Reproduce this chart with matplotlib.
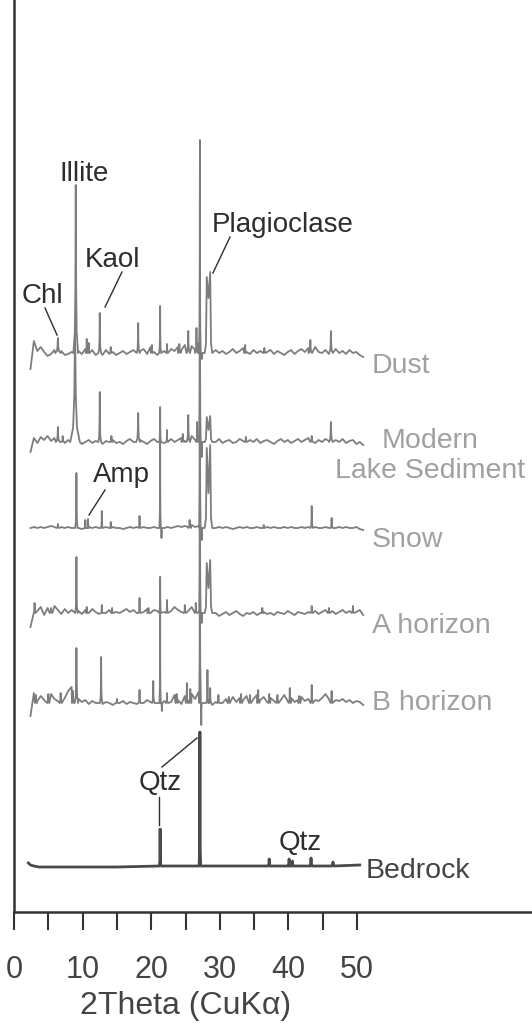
import numpy as np
import matplotlib.pyplot as plt

plt.rcParams['font.family'] = ['Liberation Sans', 'DejaVu Sans']

# 2theta grid for the background wiggle of the measured patterns (deg)
two_theta = np.arange(2.4, 50.95, 0.5)

# background noise (arb. units), one value per grid step
dust_noise = [-16, 12, 2, 6, 1, -3, -1, 3, 0, 2,
              -2, -1, 1, 0, 2, -1, 4, 1, 3, -2,
              0, -2, 3, -1, 1, -2, 0, 2, -1, 1,
              3, -2, 2, 4, -1, 6, 1, -2, 3, 2,
              -1, 4, 2, 6, 3, 8, 4, 7, 3, 10,
              0, 0, 2, -1, 3, 0, 2, -1, 1, 4,
              0, 2, 5, 1, -1, 3, 0, 2, -2, 1,
              3, -1, 2, 0, -2, 1, 3, -1, 2, 4,
              1, 5, 2, 6, 1, 0, 3, -1, 2, 4,
              0, 2, -1, 3, 0, 1, -2, -4]
lake_noise = [-10, 4, -1, 5, 2, 6, 1, 4, 0, 3,
              -1, 2, 0, 0, 1, -2, 0, 2, -1, 1,
              0, -2, 1, 0, 2, -1, 0, -2, 1, 3,
              0, -1, 2, 0, -2, 1, 3, 0, 2, -1,
              1, 3, 0, 2, 4, 1, 3, 6, 2, 4,
              0, 0, -4, 2, 0, 3, -1, 1, 2, -1,
              0, 3, 1, -1, 2, 0, 3, -1, 1, 2,
              0, -2, 1, 3, 0, 2, -1, 1, 3, 0,
              2, 4, 1, -1, 2, 0, 3, 1, -1, 2,
              0, 3, -1, 1, 2, -2, 0, -3]
snow_noise = [0, 1, 0, 1, 0, 1, 2, 1, 0, 1,
              0, 1, 0, 0, 0, -1, 0, 1, 0, 1,
              0, 0, 1, 0, 1, 0, 0, -1, 0, 1,
              0, 1, 0, 1, 0, 0, 1, 0, 1, 0,
              1, 0, 1, 2, 1, 2, 1, 3, 1, 2,
              0, 0, -2, 1, 0, 1, 0, 1, 0, -1,
              0, 1, 0, 1, 0, 0, 1, 0, -1, 1,
              0, 1, 0, 0, 1, 0, 1, 0, 0, 1,
              0, 1, 0, 1, 0, 0, 1, 0, 1, 0,
              1, 0, 1, 0, 0, 1, -1, -2]
a_noise = [-14, 8, 2, 6, -2, 5, 1, 7, 3, -1,
           4, 0, 3, 0, 2, -1, 3, 0, 4, 1,
           -1, 2, 0, 3, -1, 1, 0, 2, 4, 1,
           3, 0, 2, 1, 4, 0, 3, 2, 5, 1,
           4, 2, 6, 3, 1, 5, 2, 6, 3, 1,
           0, 0, 1, -2, 0, -3, -1, 1, -2, 0,
           2, -1, -3, 0, -1, 1, -2, 0, 1, -1,
           0, -2, 1, 0, -1, 2, 0, -2, 1, 0,
           -1, 1, 0, 2, -1, 1, 3, 0, 2, -1,
           1, 3, 0, 2, 4, 1, 3, -2]
b_noise = [-13, 10, 2, 7, 3, 5, 9, 4, 2, 8,
           5, 12, 16, 0, 4, 1, 3, -1, 2, 0,
           0, -1, 1, 0, -2, 1, 0, 2, -1, 1,
           0, -1, 2, 0, 3, 1, 5, 0, 4, 2,
           6, 1, 8, 3, -1, 7, 2, 9, 4, 11,
           0, 0, 3, -2, 1, 5, 0, 4, 2, 6,
           1, 5, 3, 7, 2, 4, 8, 3, 6, 1,
           5, 2, 6, 3, 8, 2, 5, 1, 3, 6,
           2, 4, 1, 3, 2, 5, 9, 4, 6, 3,
           2, 4, 1, 3, 0, 2, 1, -2]
bed_x = [2.1, 2.4, 2.9, 3.6, 5.0, 15.0, 26.0, 35.0, 50.4]
bed_y = [3, 1, 0, -1, -1, -1, 0, 0, 1]

# peaks: position (deg 2theta), height (arb.), half width (deg)
dust_pos = [6.4, 9.0, 10.6, 10.9, 12.5, 14.1, 18.1, 20.1, 21.3, 22.3, 24.1, 25.4,
            26.6, 27.1, 27.4, 28.1, 28.35, 28.6, 33.7, 36.5, 43.2, 46.2]
dust_h = [15, 168, 14, 10, 40, 6, 30, 8, 47, 9, 9, 22,
          25, 213, -6, 76, 55, 81, 8, 5, 13, 22]
dust_w = [0.4, 0.35, 0.12, 0.12, 0.2, 0.15, 0.22, 0.15, 0.15, 0.12, 0.2, 0.25,
          0.2, 0.12, 0.1, 0.3, 0.3, 0.3, 0.15, 0.15, 0.25, 0.28]

lake_pos = [6.4, 7.1, 8.9, 12.5, 14.2, 18.1, 21.3, 22.3, 24.6, 25.4, 26.7, 27.1,
            27.35, 28.1, 28.35, 28.6, 33.8, 43.4, 46.2]
lake_h = [15, 6, 120, 50, 6, 29, 34, 12, 8, 27, 20, 260,
          -15, 25, 12, 26, 5, 6, 20]
lake_w = [0.3, 0.2, 0.7, 0.2, 0.15, 0.28, 0.12, 0.12, 0.2, 0.25, 0.15, 0.12,
          0.1, 0.3, 0.3, 0.3, 0.15, 0.2, 0.28]

snow_pos = [6.4, 9.1, 10.4, 10.8, 12.8, 14.1, 18.3, 21.3, 21.5, 25.6, 27.1, 27.35,
            28.1, 28.35, 28.6, 36.4, 43.4, 46.3]
snow_h = [4, 55, 8, 9, 17, 6, 12, 121, -10, 8, 300, -12,
          80, 35, 83, 3, 22, 10]
snow_w = [0.2, 0.18, 0.08, 0.08, 0.14, 0.12, 0.14, 0.1, 0.08, 0.2, 0.1, 0.08,
          0.3, 0.3, 0.3, 0.15, 0.18, 0.18]

a_pos = [3.0, 5.4, 9.1, 10.6, 12.8, 14.3, 18.3, 19.6, 21.3, 22.3, 24.9, 26.5,
         27.1, 27.35, 28.1, 28.35, 28.6, 36.2, 43.4, 45.9, 49.4]
a_h = [10, 5, 56, 6, 8, 5, 15, 5, 36, 13, 8, 10,
       320, -10, 50, 25, 53, 5, 7, 5, 7]
a_w = [0.12, 0.2, 0.18, 0.12, 0.12, 0.12, 0.15, 0.15, 0.12, 0.15, 0.15, 0.15,
       0.1, 0.08, 0.3, 0.3, 0.3, 0.15, 0.15, 0.15, 0.15]

b_pos = [3.2, 5.0, 6.8, 8.6, 9.1, 12.7, 15.0, 18.3, 20.3, 21.3, 21.55, 22.3,
         23.7, 25.2, 25.7, 27.1, 27.3, 28.2, 28.6, 29.8, 31.3, 33.1, 34.4, 35.6,
         37.2, 38.4, 40.2, 41.6, 43.4, 46.3]
b_h = [8, 9, 10, 12, 55, 46, 4, 13, 22, 126, -8, 10,
       9, 20, 14, 360, -22, 33, 15, 8, 6, 9, 8, 13,
       9, 8, 15, 7, 18, 12]
b_w = [0.15, 0.15, 0.15, 0.15, 0.25, 0.18, 0.15, 0.15, 0.18, 0.1, 0.1, 0.15,
       0.15, 0.15, 0.15, 0.1, 0.1, 0.15, 0.15, 0.15, 0.15, 0.15, 0.15, 0.15,
       0.15, 0.15, 0.15, 0.15, 0.15, 0.15]

bed_pos = [21.3, 27.1, 37.2, 40.1, 40.6, 43.3, 46.5]
bed_h = [37, 134, 7, 7, 5, 8, 4]
bed_w = [0.12, 0.12, 0.15, 0.12, 0.12, 0.15, 0.15]

# vertical offsets of the stacked patterns
offsets = {'Dust': 559, 'Lake': 470, 'Snow': 384, 'A': 299, 'B': 209, 'Bedrock': 46}


def build_trace(bg_x, bg_y, pos, h, w, base):
    windows = [(p - ww, p + ww) for p, ww in zip(pos, w)]

    def inside(x, skip=None):
        for k, (lo, hi) in enumerate(windows):
            if k != skip and lo < x < hi:
                return True
        return False

    pts = [(x, y) for x, y in zip(bg_x, bg_y) if not inside(x)]
    for k, (p, hh, ww) in enumerate(zip(pos, h, w)):
        pts.append((p, hh))
        for f, frac in ((-1, 0), (-0.4, 0.12), (-0.15, 0.4), (0.15, 0.4), (0.4, 0.12), (1, 0)):
            xv = p + f * ww
            if not inside(xv, skip=k):
                pts.append((xv, frac * hh))
    pts.sort()
    xs, ys = zip(*pts)
    return np.array(xs), np.array(ys) + base


fig = plt.figure(figsize=(5.32, 10.23), dpi=100)
ax = fig.add_axes([14 / 532, 111 / 1023, 518 / 532, 912 / 1023])

grey = '#7d7d7d'
for noise, pos, h, w, key in [(dust_noise, dust_pos, dust_h, dust_w, 'Dust'),
                              (lake_noise, lake_pos, lake_h, lake_w, 'Lake'),
                              (snow_noise, snow_pos, snow_h, snow_w, 'Snow'),
                              (a_noise, a_pos, a_h, a_w, 'A'),
                              (b_noise, b_pos, b_h, b_w, 'B')]:
    x, y = build_trace(two_theta, noise, pos, h, w, offsets[key])
    ax.plot(x, y, color=grey, lw=1.3, solid_joinstyle='round')

x, y = build_trace(bed_x, bed_y, bed_pos, bed_h, bed_w, offsets['Bedrock'])
ax.plot(x, y, color='#4a4a4a', lw=2.0, solid_joinstyle='round')

# sample names
lab_col = '#a0a0a0'
ax.text(52.2, 539, 'Dust', color=lab_col, fontsize=20.5, va='baseline')
ax.text(60.6, 464, 'Modern', color=lab_col, fontsize=20.5, va='baseline', ha='center')
ax.text(60.6, 434, 'Lake Sediment', color=lab_col, fontsize=20.5, va='baseline', ha='center')
ax.text(52.2, 365, 'Snow', color=lab_col, fontsize=20.5, va='baseline')
ax.text(52.2, 279, 'A horizon', color=lab_col, fontsize=20.5, va='baseline')
ax.text(52.2, 202, 'B horizon', color=lab_col, fontsize=20.5, va='baseline')
ax.text(51.2, 34, 'Bedrock', color='#444444', fontsize=20.5, va='baseline')

# mineral annotations
ann_col = '#2e2e2e'
ax.text(10.2, 731, 'Illite', color=ann_col, fontsize=20, ha='center', va='baseline')
ax.text(14.3, 645, 'Kaol', color=ann_col, fontsize=20, ha='center', va='baseline')
ax.text(4.1, 609, 'Chl', color=ann_col, fontsize=20, ha='center', va='baseline')
ax.text(39.1, 680, 'Plagioclase', color=ann_col, fontsize=20, ha='center', va='baseline')
ax.text(15.6, 430, 'Amp', color=ann_col, fontsize=20, ha='center', va='baseline')
ax.text(21.3, 122, 'Qtz', color=ann_col, fontsize=20, ha='center', va='baseline')
ax.text(41.7, 62, 'Qtz', color=ann_col, fontsize=20, ha='center', va='baseline')

ax.plot([15.74, 13.27], [640, 605], color=ann_col, lw=1.0)
ax.plot([4.52, 6.27], [604, 577], color=ann_col, lw=1.0)
ax.plot([31.49, 29.0], [675, 639], color=ann_col, lw=1.0)
ax.plot([13.27, 10.93], [422, 397], color=ann_col, lw=1.0)
ax.plot([26.68, 21.57], [174, 145], color=ann_col, lw=1.0)
ax.plot([21.14, 21.14], [115, 87], color=ann_col, lw=1.0)

ax.set_xlim(0, 518 / 6.86)
ax.set_ylim(0, 912)

tick_pos = [0, 5, 10, 15, 20, 25, 30, 35, 40, 45, 50]
tick_lab = ['0', '', '10', '', '20', '', '30', '', '40', '', '50']
ax.set_xticks(tick_pos)
ax.set_xticklabels(tick_lab)
ax.set_yticks([])
ax.tick_params(axis='x', direction='out', length=13, width=1.5, color='#333333',
               pad=18, labelsize=22, labelcolor='#444444')

for s in ['top', 'right']:
    ax.spines[s].set_visible(False)
for s in ['left', 'bottom']:
    ax.spines[s].set_linewidth(1.8)
    ax.spines[s].set_color('#333333')

ax.set_xlabel('2Theta (CuK\u03b1)', fontsize=23, color='#444444')
ax.xaxis.set_label_coords(0.332, -0.0866)

fig.savefig('out.png', dpi=100)
